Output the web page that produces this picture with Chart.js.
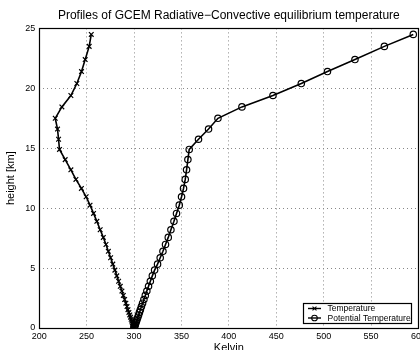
<!DOCTYPE html>
<html>
<head>
<meta charset="utf-8">
<script src="https://cdn.jsdelivr.net/npm/chart.js@4.4.0/dist/chart.umd.min.js"></script>
<style>
  html, body { margin: 0; padding: 0; overflow: hidden; background: #fff; }
  canvas { display: block; }
</style>
</head>
<body>
<canvas id="grafico" width="429" height="359"></canvas>
<script>
// model levels (km), bottom to top
const alturas = [0, 0.04, 0.09, 0.16, 0.24, 0.34, 0.45, 0.58, 0.73, 0.9, 1.09, 1.3, 1.53, 1.79, 2.07,
  2.38, 2.72, 3.08, 3.48, 3.9, 4.35, 4.83, 5.33, 5.86, 6.4, 6.97, 7.56, 8.2, 8.9, 9.56, 10.25,
  10.95, 11.65, 12.4, 13.2, 14.05, 14.9, 15.75, 16.6, 17.5, 18.45, 19.4, 20.4, 21.4, 22.4, 23.5, 24.5];

// temperature (K)
const temperatura = [300, 299.8, 299.6, 299.4, 299.0, 298.6, 298.2, 297.6, 297.0, 296.3, 295.5, 294.6,
  293.6, 292.6, 291.4, 290.1, 288.7, 287.2, 285.5, 283.7, 281.8, 279.8, 277.6, 275.3, 272.9, 270.4,
  267.6, 264.3, 260.8, 257.3, 253.6, 249.5, 244.5, 238.7, 233.4, 227.4, 221.4, 220.4, 219.3, 216.9,
  223.9, 233.4, 239.7, 244.6, 248.5, 252.7, 254.9];

// potential temperature (K)
const potencial = [300, 300.2, 300.4, 300.7, 301.1, 301.5, 302.0, 302.6, 303.2, 304.0, 304.8, 305.7,
  306.7, 307.8, 309.0, 310.4, 311.9, 313.5, 315.3, 317.2, 319.3, 321.7, 324.8, 327.6, 330.5, 333.2,
  336.1, 338.9, 342.1, 344.8, 347.7, 350.1, 352.2, 354.0, 355.4, 356.8, 358.2, 368.0, 378.6, 388.5,
  413.8, 446.5, 476.4, 504.0, 533.0, 564.0, 594.5];

const limitesX = [200, 600];
const passoX = 50;
const limitesY = [0, 25];
const passoY = 5;

const fonte = "'Liberation Sans', Arial, sans-serif";
const grafico = document.querySelector("#grafico");

function montarPontos(valores) {
  return valores.map((v, i) => ({ x: v, y: alturas[i] }));
}

// box around the axes + legend in the lower right corner
const moldura = {
  id: "moldura",
  afterDraw(chart) {
    const ctx = chart.ctx;
    const area = chart.chartArea;
    ctx.save();
    ctx.strokeStyle = "#000";
    ctx.lineWidth = 1.2;
    ctx.strokeRect(Math.round(area.left) + 0.5, Math.round(area.top) + 0.5,
      Math.round(area.right - area.left), Math.round(area.bottom - area.top));

    // legend
    const x0 = 303, y0 = 303, w = 108, h = 20;
    ctx.fillStyle = "#fff";
    ctx.fillRect(x0, y0, w, h);
    ctx.lineWidth = 1.2;
    ctx.strokeRect(x0 + 0.5, y0 + 0.5, w, h);
    ctx.font = "8.5px " + fonte;
    ctx.textBaseline = "middle";
    chart.data.datasets.forEach((ds, i) => {
      const ly = y0 + 5.5 + i * 9.5;
      ctx.strokeStyle = "#000";
      ctx.lineWidth = 1.4;
      ctx.beginPath();
      ctx.moveTo(x0 + 5, ly);
      ctx.lineTo(x0 + 18, ly);
      ctx.stroke();
      ctx.lineWidth = 1.1;
      ctx.fillStyle = "rgba(0,0,0,0)";
      Chart.helpers.drawPoint(ctx, { pointStyle: ds.pointStyle, radius: 2.8, borderWidth: 1.1 }, x0 + 11.5, ly);
      ctx.fillStyle = "#000";
      ctx.fillText(ds.label, x0 + 24.5, ly + 0.5);
    });
    ctx.restore();
  }
};

new Chart(grafico, {
  type: "scatter",
  data: {
    datasets: [
      {
        label: "Temperature",
        data: montarPontos(temperatura),
        showLine: true,
        borderColor: "#000",
        borderWidth: 1.6,
        pointStyle: "crossRot",
        pointRadius: 3.3,
        pointBorderColor: "#000",
        pointBorderWidth: 1.2,
      },
      {
        label: "Potential Temperature",
        data: montarPontos(potencial),
        showLine: true,
        borderColor: "#000",
        borderWidth: 1.6,
        pointStyle: "circle",
        pointRadius: 3.2,
        pointBorderColor: "#000",
        pointBackgroundColor: "rgba(0,0,0,0)",
        pointBorderWidth: 1.2,
      },
    ],
  },
  options: {
    responsive: false,
    animation: false,
    layout: { padding: { left: 0, right: 0, top: 0, bottom: 0 } },
    plugins: {
      legend: { display: false },
      tooltip: { enabled: false },
      title: {
        display: true,
        fullSize: false,
        text: "Profiles of GCEM Radiative\u2212Convective equilibrium temperature",
        color: "#000",
        font: { family: fonte, size: 12, weight: "normal" },
        padding: { top: 8, bottom: 6 },
      },
    },
    scales: {
      x: {
        type: "linear",
        min: limitesX[0],
        max: limitesX[1],
        ticks: { stepSize: passoX, color: "#000", font: { family: fonte, size: 9 }, padding: 3 },
        grid: { color: "#888", drawTicks: false, lineWidth: 1 },
        border: { display: false, dash: [1, 3] },
        title: {
          display: true,
          text: "Kelvin",
          color: "#000",
          font: { family: fonte, size: 11 },
          padding: { top: -3, bottom: 4 },
        },
      },
      y: {
        type: "linear",
        min: limitesY[0],
        max: limitesY[1],
        ticks: { stepSize: passoY, color: "#000", font: { family: fonte, size: 9 }, padding: 4 },
        grid: { color: "#888", drawTicks: false, lineWidth: 1 },
        border: { display: false, dash: [1, 3] },
        title: {
          display: true,
          text: "height [km]",
          color: "#000",
          font: { family: fonte, size: 11 },
          padding: { top: 4, bottom: 4 },
        },
      },
    },
  },
  plugins: [moldura],
});
</script>
</body>
</html>
